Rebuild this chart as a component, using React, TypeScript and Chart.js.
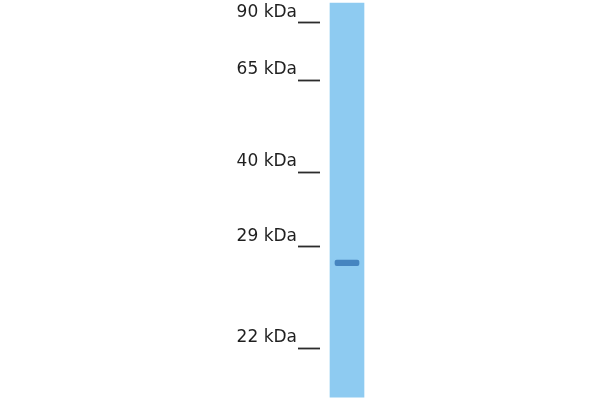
import { useEffect, useRef } from 'react';
import { Chart } from 'chart.js/auto';

// marker ladder (kDa) and where each marker sits, as % of lane length from the top
const markerKDa = [90, 65, 40, 29, 22];
const markerPos = [5.7, 20, 43, 61.6, 87];

// lane extent and the detected band, same % units
const lanes = ['Sample'];
const laneSpan: [number, number][] = [[0.8, 99.3]];
const bandSpan: [number, number][] = [[65.0, 66.4]];

export default function App() {
  const canvasRef = useRef<HTMLCanvasElement>(null);
  const chartRef = useRef<Chart | null>(null);

  useEffect(() => {
    if (!canvasRef.current) return;
    chartRef.current?.destroy();
    chartRef.current = new Chart(canvasRef.current, {
      type: 'bar',
      data: {
        labels: lanes,
        datasets: [
          { data: bandSpan, backgroundColor: 'rgba(45,110,175,0.75)', barThickness: 24, grouped: false, borderRadius: 2, borderSkipped: false, order: 0 },
          { data: laneSpan, backgroundColor: '#8ecbf1', barThickness: 34, grouped: false, borderSkipped: false, order: 1 },
        ],
      },
      options: {
        animation: false,
        responsive: true,
        maintainAspectRatio: false,
        layout: { padding: { left: 0, right: 226, top: 0, bottom: 0 } },
        plugins: { legend: { display: false }, tooltip: { enabled: false } },
        scales: {
          x: { display: false },
          y: {
            reverse: true,
            min: 0,
            max: 100,
            border: { display: false },
            grid: { drawOnChartArea: false, drawTicks: true, tickLength: 22, tickColor: '#2b2b2b', tickWidth: 1.8 },
            afterBuildTicks: (scale) => {
              scale.ticks = markerPos.map((v) => ({ value: v }));
            },
            afterFit: (scale: any) => {
              scale.width = 320;
              scale.paddingTop = 0;
              scale.paddingBottom = 0;
            },
            ticks: {
              autoSkip: false,
              padding: 1,
              labelOffset: -10,
              color: '#1f1f1f',
              font: { family: 'DejaVu Sans', size: 17 },
              callback: (_v, i) => `${markerKDa[i]} kDa`,
            },
          },
        },
      },
    });
    return () => chartRef.current?.destroy();
  }, []);

  return (
    <div style={{ position: 'fixed', left: 0, top: 0, width: 600, height: 400, background: '#fff' }}>
      <canvas ref={canvasRef} />
    </div>
  );
}
